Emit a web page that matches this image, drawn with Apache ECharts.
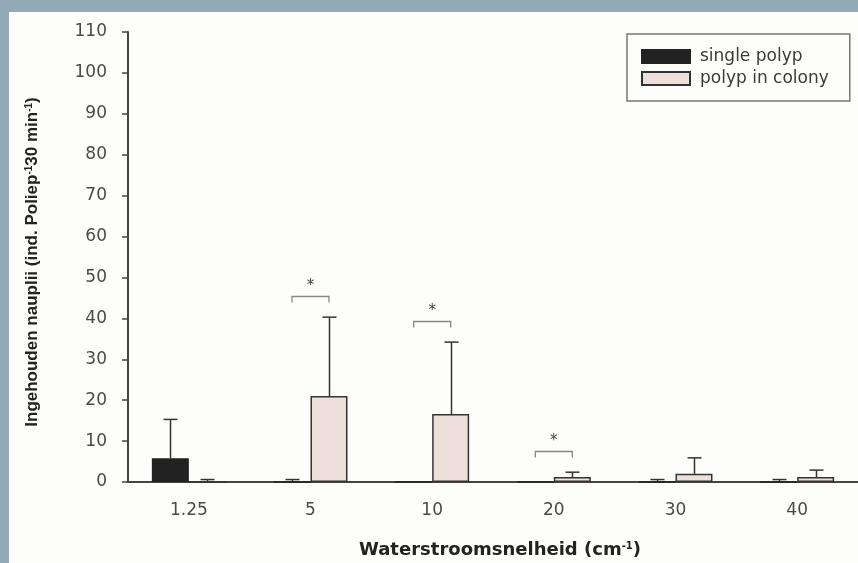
<!DOCTYPE html>
<html><head><meta charset="utf-8">
<script src="https://cdn.jsdelivr.net/npm/echarts@6/dist/echarts.min.js"></script>
<style>
html,body{margin:0;padding:0;background:#91aab6;overflow:hidden;}
#panel{position:absolute;left:9px;top:12px;width:849px;height:551px;background:#fdfdfb;}
#c{position:absolute;left:0;top:0;width:858px;height:563px;}
</style>
</head><body><div id="panel"></div><div id="c"></div>
<script>
// Data
const categories = ['1.25', '5', '10', '20', '30', '40'];
const singleMean = [5.8, 0, 0, 0, 0, 0];
const singleUpper = [15.3, 0.6, null, null, 0.6, 0.6];
const colonyMean = [0, 21, 16.6, 1.2, 2, 1.2];
const colonyUpper = [0.6, 40.3, 34.2, 2.4, 5.9, 2.9];
const sigCategories = ['5', '10', '20'];
const sigLevels = [45.5, 39.4, 7.6];
const yTicks = [0, 10, 20, 30, 40, 50, 60, 70, 80, 90, 100, 110];

const BAR_FRAC = 0.304;
const chart = echarts.init(document.getElementById('c'), null, {renderer: 'canvas'});

function errData(mean, upper) {
  const out = [];
  mean.forEach((m, i) => { if (upper[i] != null) out.push([i, m, upper[i]]); });
  return out;
}
function errRender(sign) {
  return function (params, api) {
    const idx = api.value(0), mean = api.value(1), up = api.value(2);
    const band = api.size([1, 0])[0];
    const off = sign * band * BAR_FRAC / 2;
    const p0 = api.coord([idx, mean]);
    const p1 = api.coord([idx, up]);
    const x = Math.round(p0[0] + off) + 0.5;
    const cw = 7;
    return {type: 'group', children: [
      {type: 'line', shape: {x1: x, y1: p0[1], x2: x, y2: p1[1]}, style: {stroke: '#333', lineWidth: 1.5}},
      {type: 'line', shape: {x1: x - cw, y1: p1[1], x2: x + cw, y2: p1[1]}, style: {stroke: '#333', lineWidth: 1.5}}
    ]};
  };
}
const sigData = sigCategories.map((c, i) => [categories.indexOf(c), sigLevels[i]]);

const FONT = 'DejaVu Sans';
chart.setOption({
  animation: false,
  grid: {left: 128, right: 0, top: 32, height: 450, containLabel: false, outerBoundsMode: 'none'},
  legend: {
    orient: 'vertical', left: 627, top: 34,
    icon: 'rect',
    itemWidth: 48, itemHeight: 13, itemGap: 5,
    padding: [14, 21, 14, 14],
    borderColor: '#777', borderWidth: 1.5, borderRadius: 0,
    textStyle: {fontFamily: FONT, fontSize: 17, color: '#3a3a3a', padding: [0, 0, 0, 5]},
    data: ['single polyp', 'polyp in colony']
  },
  xAxis: {
    type: 'category', data: categories, boundaryGap: true,
    axisLine: {lineStyle: {color: '#444', width: 2}},
    axisTick: {alignWithLabel: true, length: 6, lineStyle: {color: '#444', width: 1.5}},
    axisLabel: {margin: 20, fontFamily: FONT, fontSize: 17, color: '#4a4a4a'},
    name: 'Waterstroomsnelheid (cm{s|-1})',
    nameLocation: 'middle', nameGap: 59,
    nameTextStyle: {fontFamily: FONT, fontWeight: 'bold', fontSize: 18, color: '#222', padding: [0, 0, 0, 14],
      rich: {s: {fontFamily: FONT, fontWeight: 'bold', fontSize: 10, color: '#222', verticalAlign: 'top', padding: [0, 0, 8, 0]}}}
  },
  yAxis: {
    type: 'value', min: 0, max: 110, interval: 10,
    splitLine: {show: false},
    axisLine: {show: true, lineStyle: {color: '#444', width: 2}},
    axisTick: {show: true, length: 6, lineStyle: {color: '#444', width: 1.5}},
    axisLabel: {margin: 21, fontFamily: FONT, fontSize: 17, color: '#4a4a4a',
      formatter: v => (yTicks.indexOf(v) >= 0 ? String(v) : '')},
    name: 'Ingehouden nauplii (ind. Poliep{s|-1}30 min{s|-1})',
    nameLocation: 'middle', nameGap: 87, nameRotate: 90,
    nameTextStyle: {fontFamily: 'Liberation Sans', fontWeight: 'bold', fontSize: 17, color: '#222', padding: [0, 10, 0, 0],
      rich: {s: {fontFamily: 'Liberation Sans', fontWeight: 'bold', fontSize: 10, color: '#222', verticalAlign: 'top', padding: [0, 0, 7, 0]}}}
  },
  series: [
    {name: 'single polyp', type: 'bar', data: singleMean, barWidth: (BAR_FRAC * 100) + '%', barGap: '0%',
      itemStyle: {color: '#222', borderColor: '#222', borderWidth: 1.5}},
    {name: 'polyp in colony', type: 'bar', data: colonyMean, barWidth: (BAR_FRAC * 100) + '%', barGap: '0%',
      itemStyle: {color: '#efdfda', borderColor: '#333', borderWidth: 1.5}},
    {type: 'custom', name: 'errSingle', data: errData(singleMean, singleUpper), renderItem: errRender(-1), z: 5, silent: true},
    {type: 'custom', name: 'errColony', data: errData(colonyMean, colonyUpper), renderItem: errRender(1), z: 5, silent: true},
    {type: 'custom', name: 'sig', data: sigData, z: 5, silent: true,
      renderItem: function (params, api) {
        const idx = api.value(0), lvl = api.value(1);
        const band = api.size([1, 0])[0];
        const off = band * BAR_FRAC / 2;
        const p = api.coord([idx, lvl]);
        const y = Math.round(p[1]) + 0.5;
        return {type: 'group', children: [
          {type: 'polyline', shape: {points: [[p[0] - off, y + 6], [p[0] - off, y], [p[0] + off, y], [p[0] + off, y + 6]]},
            style: {stroke: '#888', lineWidth: 1.3, fill: null}},
          {type: 'text', x: p[0], y: y - 3, style: {text: '*', fontFamily: FONT, fontSize: 15, fill: '#444', align: 'center', verticalAlign: 'bottom'}}
        ]};
      }}
  ]
});
</script>
</body></html>
